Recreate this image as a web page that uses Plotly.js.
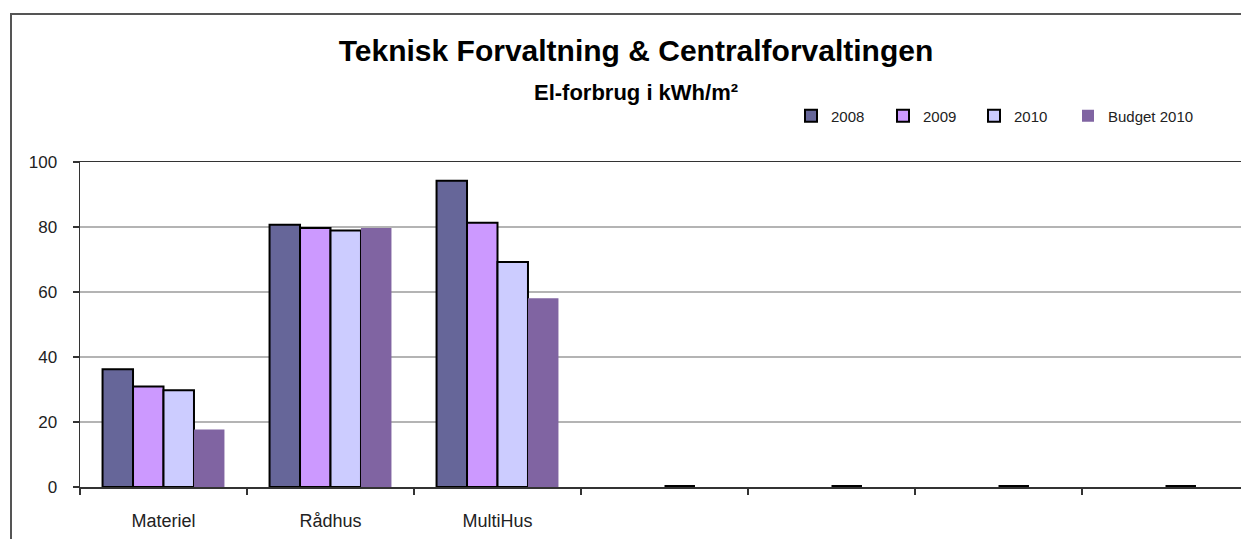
<!DOCTYPE html>
<html>
<head>
<meta charset="utf-8">
<script src="https://cdn.plot.ly/plotly-3.0.1.min.js"></script>
<style>
  html, body { margin: 0; padding: 0; background: #fff; overflow: hidden; width: 1241px; height: 539px; }
  #chart { width: 1272px; height: 539px; }
</style>
</head>
<body>
<div id="chart"></div>
<script>
// ---- Data ----
var categories = ["Materiel", "Rådhus", "MultiHus", "", "", "", ""];
var seriesNames = ["2008", "2009", "2010", "Budget 2010"];
var values2008 = [36.2, 80.7, 94.2, null, null, null, null];
var values2009 = [30.9, 79.7, 81.3, null, null, null, null];
var values2010 = [29.8, 78.9, 69.2, 0, 0, 0, 0];
var valuesBudget2010 = [17.7, 79.7, 58.1, null, null, null, null];
var yTickValues = [0, 20, 40, 60, 80, 100];

// ---- Styles ----
var colors = ["#666699", "#CC99FF", "#CCCCFF", "#8064A2"];
var legendLeft = [791, 883, 974, 1068];
var allSeries = [values2008, values2009, values2010, valuesBudget2010];
function outline(i, vals) {
  if (i === 3) return 0;
  return vals.map(function (v) { return v === 0 ? 4 : 2; });
}

var xIdx = categories.map(function (c, i) { return i; });
var boundaries = [];
for (var b = 0; b <= categories.length; b++) boundaries.push(b - 0.5);

var legendIds = ["legend", "legend2", "legend3", "legend4"];

var traces = allSeries.map(function (vals, i) {
  return {
    type: "bar",
    name: seriesNames[i],
    x: xIdx,
    y: vals,
    xaxis: "x",
    yaxis: "y",
    legend: legendIds[i],
    marker: { color: colors[i], line: { color: "#000000", width: outline(i, vals) } },
    hoverinfo: "x+y+name"
  };
});

var font = "Liberation Sans, Arial, sans-serif";
var W = 1272, H = 539, ML = 80, MR = 23, MT = 162, MB = 52;
var PW = W - ML - MR, PH = H - MT - MB;
function px(x) { return (x - ML) / PW; }
function py(y) { return (H - MB - y) / PH; }

var layout = {
  width: W,
  height: H,
  margin: { l: ML, r: MR, t: MT, b: MB },
  paper_bgcolor: "#ffffff",
  plot_bgcolor: "#ffffff",
  font: { family: font, color: "#222222" },
  barmode: "group",
  bargap: 0.27,
  bargroupgap: 0,
  showlegend: true,
  title: {
    text: "<b>Teknisk Forvaltning & Centralforvaltingen</b><br><b><span style='font-size:22px'>El-forbrug i kWh/m²</span></b>",
    font: { family: font, size: 30, color: "#000000" },
    x: 0.5, xref: "container", xanchor: "center",
    y: 1 - 61 / 539, yref: "container", yanchor: "top"
  },
  xaxis: {
    type: "linear",
    range: [-0.5, categories.length - 0.5],
    tickmode: "array",
    tickvals: boundaries,
    showticklabels: false,
    ticks: "outside",
    ticklen: 6,
    tickcolor: "#333333",
    tickwidth: 1.5,
    showgrid: false,
    zeroline: false,
    showline: true,
    linecolor: "#333333",
    linewidth: 1.5,
    mirror: true,
    fixedrange: true
  },
  xaxis2: {
    type: "linear",
    overlaying: "x",
    anchor: "y",
    side: "bottom",
    range: [-0.5, categories.length - 0.5],
    tickmode: "array",
    tickvals: xIdx,
    ticktext: categories,
    ticks: "",
    showgrid: false,
    zeroline: false,
    showline: false,
    ticklabelstandoff: 21,
    tickfont: { family: font, size: 18, color: "#222222" },
    fixedrange: true
  },
  yaxis: {
    range: [0, 100],
    tickmode: "array",
    tickvals: yTickValues,
    ticks: "outside",
    ticklen: 6,
    tickcolor: "#333333",
    tickwidth: 1.5,
    showgrid: true,
    gridcolor: "#b4b4b4",
    gridwidth: 1.5,
    zeroline: false,
    showline: true,
    linecolor: "#333333",
    linewidth: 1.5,
    ticklabelstandoff: 12,
    tickfont: { family: font, size: 17, color: "#222222" },
    fixedrange: true
  },
  shapes: [
    {
      type: "path",
      xref: "paper", yref: "paper",
      path: "M " + px(11) + " " + py(545) +
            " L " + px(11) + " " + py(14) +
            " L " + px(1300) + " " + py(14),
      line: { color: "#555555", width: 2 }
    }
  ]
};

legendIds.forEach(function (id, i) {
  layout[id] = {
    orientation: "h",
    x: px(legendLeft[i]), xanchor: "left",
    y: py(116), yanchor: "middle",
    itemwidth: 30,
    font: { family: font, size: 15, color: "#222222" },
    bgcolor: "rgba(0,0,0,0)"
  };
});

// helper trace so the category labels of xaxis2 are drawn
traces.push({
  type: "scatter", x: xIdx, y: xIdx.map(function () { return null; }),
  xaxis: "x2", yaxis: "y", showlegend: false, hoverinfo: "skip", mode: "markers"
});

Plotly.newPlot("chart", traces, layout, { displayModeBar: false, staticPlot: true });
</script>
</body>
</html>
